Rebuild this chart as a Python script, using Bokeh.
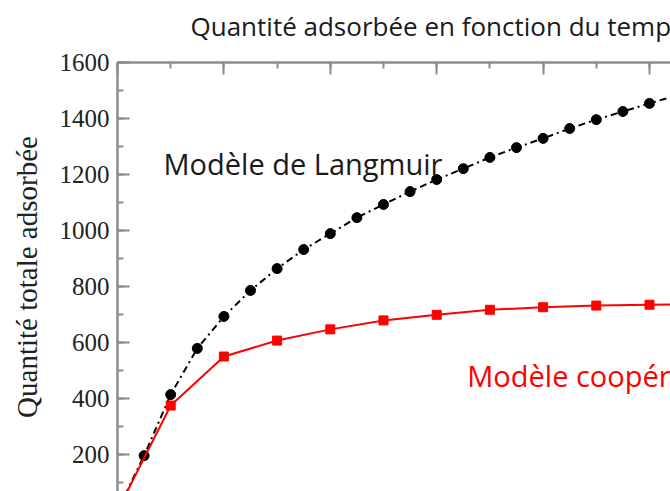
from bokeh.plotting import figure
from bokeh.models import Label, SingleIntervalTicker, CustomJSTickFormatter
from bokeh.embed import file_html
from bokeh.resources import INLINE

# Data
t_langmuir = [0, 1, 2, 3, 4, 5, 6, 7, 8, 9, 10, 11, 12, 13, 14, 15, 16, 17, 18, 19, 20, 21]
q_langmuir = [0, 196, 414, 579, 693, 786, 864, 932, 989, 1046, 1093, 1139, 1182,
              1221, 1261, 1296, 1329, 1364, 1396, 1425, 1454, 1482]
t_coop = [0, 2, 4, 6, 8, 10, 12, 14, 16, 18, 20, 22]
q_coop = [0, 375, 550, 607, 647, 679, 699, 717, 726, 732, 735, 737]

title_text = "Quantité adsorbée en fonction du temps"
y_label = "Quantité totale adsorbée"
label_langmuir = "Modèle de Langmuir"
label_coop = "Modèle coopératif"

AXIS_GRAY = "#8c8c8c"
RED = "#ff0000"

p = figure(width=670, height=491, x_range=(0, 20.79), y_range=(68, 1600),
           x_axis_location="above", output_backend="svg", toolbar_location=None,
           min_border_left=117, min_border_top=62, min_border_right=0,
           min_border_bottom=0)

# trailing line break gives the title panel extra height so the text sits higher
p.title.text = title_text + "\n "
p.title.align = "left"
p.title.vertical_align = "top"
p.title.offset = 73
p.title.standoff = 2
p.title.text_font = "Open Sans"
p.title.text_font_size = "26px"
p.title.text_line_height = 0.45
p.title.text_font_style = "normal"
p.title.text_color = "#1a1a1a"

p.outline_line_color = None
p.xgrid.visible = False
p.ygrid.visible = False
p.background_fill_color = "white"
p.border_fill_color = "white"

# top axis (ticks only)
xa = p.xaxis[0]
xa.ticker = SingleIntervalTicker(interval=4, num_minor_ticks=2)
xa.formatter = CustomJSTickFormatter(code="return ''")
xa.major_label_standoff = 0
xa.major_tick_in = 12
xa.major_tick_out = 0
xa.minor_tick_in = 6
xa.minor_tick_out = 0
xa.axis_line_color = AXIS_GRAY
xa.axis_line_width = 2.5
xa.major_tick_line_color = AXIS_GRAY
xa.major_tick_line_width = 2
xa.minor_tick_line_color = AXIS_GRAY
xa.minor_tick_line_width = 2

ya = p.yaxis[0]
ya.ticker = SingleIntervalTicker(interval=200, num_minor_ticks=2)
ya.major_tick_in = 12
ya.major_tick_out = 0
ya.minor_tick_in = 6
ya.minor_tick_out = 0
ya.axis_line_color = AXIS_GRAY
ya.axis_line_width = 2.5
ya.major_tick_line_color = AXIS_GRAY
ya.major_tick_line_width = 2
ya.minor_tick_line_color = AXIS_GRAY
ya.minor_tick_line_width = 2
ya.major_label_text_font = "Liberation Serif"
ya.major_label_text_font_size = "25px"
ya.major_label_text_color = "#222222"
ya.major_label_standoff = 8
ya.axis_label = y_label
ya.axis_label_text_font = "Liberation Serif"
ya.axis_label_text_font_size = "29px"
ya.axis_label_text_font_style = "normal"
ya.axis_label_text_color = "#222222"
ya.axis_label_standoff = 14

# Langmuir model
p.line(t_langmuir, q_langmuir, line_color="black", line_width=2, line_dash="7 4 2 4")
p.scatter(t_langmuir, q_langmuir, marker="circle", size=10, color="black")

# cooperative model
p.line(t_coop, q_coop, line_color=RED, line_width=2)
p.scatter(t_coop, q_coop, marker="square", size=9, color=RED)

p.add_layout(Label(x=1.73, y=1239, text=label_langmuir, text_font="Open Sans",
                   text_font_size="29px", text_color="#1a1a1a",
                   text_baseline="alphabetic", text_align="left"))
p.add_layout(Label(x=13.15, y=482, text=label_coop, text_font="Open Sans",
                   text_font_size="29px", text_color=RED,
                   text_baseline="alphabetic", text_align="left"))

open("out.html", "w").write(file_html(p, INLINE))
